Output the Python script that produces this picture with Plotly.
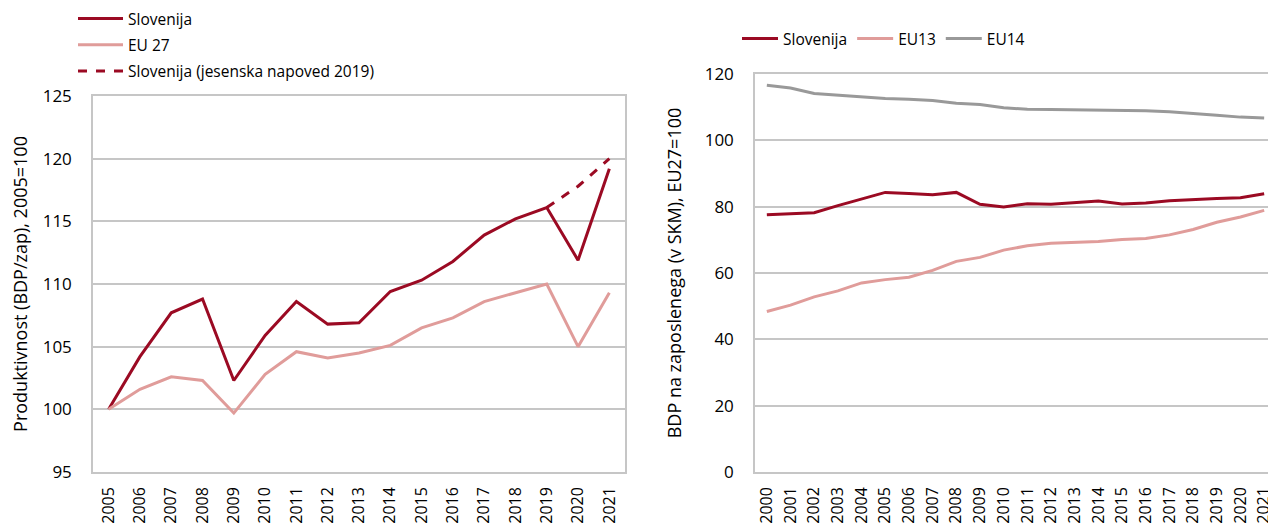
import plotly.graph_objects as go

# Left chart data
years_left = list(range(2005, 2022))
slo_prod = [100.0, 104.2, 107.7, 108.8, 102.3, 105.9, 108.6, 106.8, 106.9, 109.4,
            110.3, 111.8, 113.9, 115.2, 116.1, 111.9, 119.2]
eu27_prod = [100.0, 101.6, 102.6, 102.3, 99.7, 102.8, 104.6, 104.1, 104.5, 105.1,
             106.5, 107.3, 108.6, 109.3, 110.0, 105.0, 109.3]
forecast_years = [2019, 2020, 2021]
slo_forecast = [116.1, 117.8, 120.0]

# Right chart data
years_right = list(range(2000, 2022))
slo_level = [77.6, 78.0, 78.2, 80.3, 82.4, 84.3, 84.0, 83.6, 84.3, 80.7, 79.9,
             80.9, 80.7, 81.2, 81.7, 80.8, 81.1, 81.8, 82.2, 82.5, 82.7, 83.9]
eu13_level = [48.4, 50.3, 52.8, 54.6, 57.0, 58.0, 58.7, 60.8, 63.5, 64.7, 66.9,
              68.2, 69.0, 69.2, 69.5, 70.1, 70.4, 71.5, 73.1, 75.3, 76.9, 78.9]
eu14_level = [116.6, 115.8, 114.1, 113.6, 112.9, 112.6, 112.4, 112.0, 111.2, 110.8,
              109.8, 109.4, 109.3, 109.2, 109.2, 109.0, 108.9, 108.6, 108.2, 107.6,
              107.0, 106.7]

DARK = "#9b0a23"
PINK = "#e09c9a"
GRAY = "#999999"
GRID = "#c6c6c6"
FONT = "Open Sans"

fig = go.Figure()
fig.add_trace(go.Scatter(x=years_left, y=slo_prod, mode="lines", name="Slovenija",
                         legendgroup="a", line=dict(color=DARK, width=3),
                         xaxis="x", yaxis="y", legend="legend"))
fig.add_trace(go.Scatter(x=years_left, y=eu27_prod, mode="lines", name="EU 27",
                         legendgroup="b", line=dict(color=PINK, width=3),
                         xaxis="x", yaxis="y", legend="legend"))
fig.add_trace(go.Scatter(x=forecast_years, y=slo_forecast, mode="lines",
                         name="Slovenija (jesenska napoved 2019)", legendgroup="c",
                         line=dict(color=DARK, width=3, dash="dash"), xaxis="x", yaxis="y",
                         legend="legend"))

fig.add_trace(go.Scatter(x=years_right, y=slo_level, mode="lines", name="Slovenija",
                         line=dict(color=DARK, width=3), xaxis="x2", yaxis="y2", legend="legend2"))
fig.add_trace(go.Scatter(x=years_right, y=eu13_level, mode="lines", name="EU13",
                         line=dict(color=PINK, width=3), xaxis="x2", yaxis="y2", legend="legend2"))
fig.add_trace(go.Scatter(x=years_right, y=eu14_level, mode="lines", name="EU14",
                         line=dict(color=GRAY, width=3), xaxis="x2", yaxis="y2", legend="legend2"))

# The page body adds an 8px offset, so the figure is laid out in page coords minus 8.
W, H = 1268, 517
axis_common = dict(showline=True, linecolor=GRID, linewidth=1.5, mirror=True,
                   zeroline=False, automargin=False)
xtickfont = dict(family=FONT, size=16, color="#000")
ytickfont = dict(family=FONT, size=17, color="#000")

fig.update_layout(
    width=W, height=H,
    margin=dict(l=0, r=0, t=0, b=0, autoexpand=False),
    paper_bgcolor="white", plot_bgcolor="white",
    font=dict(family=FONT, size=15, color="#000"),
    xaxis=dict(domain=[85 / W, 617 / W], range=[2004.5, 2021.5], tickmode="array",
               tickvals=years_left, ticktext=[str(y) for y in years_left], tickangle=-90,
               showgrid=False, anchor="y", ticks="", ticklabelstandoff=7,
               tickfont=xtickfont, **axis_common),
    yaxis=dict(domain=[1 - 464 / H, 1 - 88 / H], range=[95, 125], dtick=5,
               showgrid=True, gridcolor=GRID, gridwidth=1.5, anchor="x", ticks="",
               ticklabelstandoff=16, tickfont=ytickfont,
               title=dict(text="Produktivnost (BDP/zap), 2005=100",
                          font=dict(family=FONT, size=18), standoff=25),
               **axis_common),
    xaxis2=dict(domain=[747 / W, 1.0], range=[1999.5, 2021.5], tickmode="array",
                tickvals=years_right, ticktext=[str(y) for y in years_right], tickangle=-90,
                showgrid=False, anchor="y2", ticks="", ticklabelstandoff=7,
                tickfont=xtickfont, **axis_common),
    yaxis2=dict(domain=[1 - 464 / H, 1 - 66 / H], range=[0, 120], dtick=20,
                showgrid=True, gridcolor=GRID, gridwidth=1.5, anchor="x2", ticks="",
                ticklabelstandoff=16, tickfont=ytickfont,
                title=dict(text="BDP na zaposlenega (v SKM), EU27=100",
                           font=dict(family=FONT, size=18), standoff=18),
                **axis_common),
    legend=dict(x=65 / W, y=1 + 6 / H, xanchor="left", yanchor="top",
                orientation="v", font=dict(family=FONT, size=15.5),
                bgcolor="rgba(0,0,0,0)", tracegroupgap=3, itemwidth=45),
    legend2=dict(x=729 / W, y=1 - 14 / H, xanchor="left", yanchor="top",
                 orientation="h", font=dict(family=FONT, size=15.5),
                 bgcolor="rgba(0,0,0,0)", itemwidth=36),
)

fig.write_html("out.html")
